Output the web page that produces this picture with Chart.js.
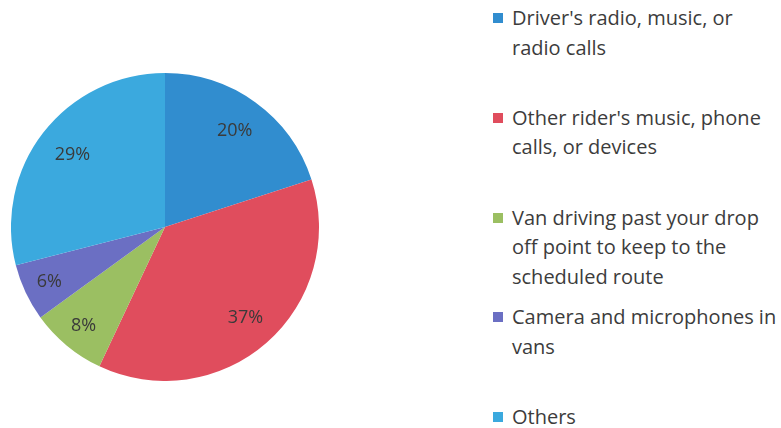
<!DOCTYPE html>
<html>
<head>
<meta charset="utf-8">
<script src="https://cdn.jsdelivr.net/npm/chart.js@4/dist/chart.umd.min.js"></script>
<style>
  body { margin: 0; background: #fff; width: 781px; height: 428px; overflow: hidden; position: relative; font-family: "Open Sans", sans-serif; }
  #pie-wrap { position: absolute; left: 11px; top: 73px; width: 308px; height: 308px; }
  #legend { position: absolute; left: 493px; top: 0; width: 288px; }
  .item { position: absolute; left: 0; display: flex; align-items: flex-start; white-space: nowrap; }
  .swatch { width: 10px; height: 10px; margin-top: 10px; margin-right: 9px; flex: none; }
  .text { font-size: 20px; line-height: 29.5px; color: #3c3c3c; }
</style>
</head>
<body>
<div id="pie-wrap"><canvas id="pie"></canvas></div>
<div id="legend"></div>
<script>
const labels = [
  ["Driver's radio, music, or", "radio calls"],
  ["Other rider's music, phone", "calls, or devices"],
  ["Van driving past your drop", "off point to keep to the", "scheduled route"],
  ["Camera and microphones in", "vans"],
  ["Others"]
];
const values = [20, 37, 8, 6, 29];
const colors = ['#318dcf', '#e04d5d', '#9bbf62', '#6b6fc3', '#3ba9de'];

// label distance from centre, as part of the radius
const labelRadius = [0.77, 0.79, 0.83, 0.83, 0.76];

const sliceLabels = {
  id: 'sliceLabels',
  afterDatasetsDraw(chart) {
    const ctx = chart.ctx;
    const meta = chart.getDatasetMeta(0);
    ctx.save();
    ctx.font = '18px "Open Sans", sans-serif';
    ctx.fillStyle = '#3a3a3a';
    ctx.textAlign = 'center';
    ctx.textBaseline = 'middle';
    meta.data.forEach((arc, i) => {
      const p = arc.getProps(['x', 'y', 'startAngle', 'endAngle', 'outerRadius'], true);
      const a = (p.startAngle + p.endAngle) / 2;
      const r = p.outerRadius * labelRadius[i];
      ctx.fillText(values[i] + '%', p.x + Math.cos(a) * r, p.y + Math.sin(a) * r);
    });
    ctx.restore();
  }
};

new Chart(document.getElementById('pie'), {
  type: 'pie',
  data: {
    labels: labels,
    datasets: [{
      data: values,
      backgroundColor: colors,
      borderWidth: 0
    }]
  },
  options: {
    responsive: true,
    maintainAspectRatio: false,
    animation: false,
    plugins: {
      legend: { display: false },
      tooltip: { enabled: false }
    }
  },
  plugins: [sliceLabels]
});

// legend, items at even spacing like the original
const legend = document.getElementById('legend');
labels.forEach((lines, i) => {
  const item = document.createElement('div');
  item.className = 'item';
  item.style.top = (3 + i * 99.8) + 'px';
  item.innerHTML = '<span class="swatch" style="background:' + colors[i] + '"></span>' +
    '<span class="text">' + lines.join('<br>') + '</span>';
  legend.appendChild(item);
});
</script>
</body>
</html>
